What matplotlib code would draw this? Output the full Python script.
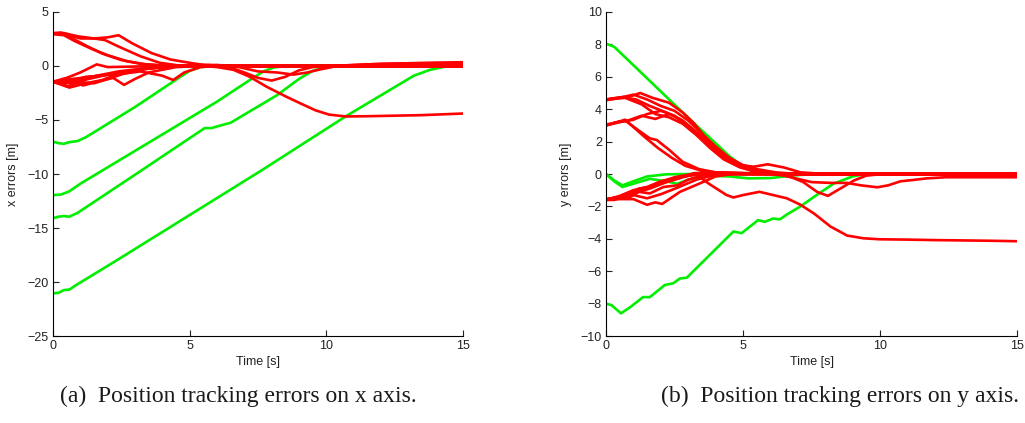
import matplotlib.pyplot as plt
import numpy as np

plt.rcParams['font.family'] = ['Liberation Sans', 'DejaVu Sans']

# ---- x axis errors (panel a), waypoints (time [s], error [m]) ----
x_green_1 = [(0, -7.0), (0.2, -7.15), (0.4, -7.2), (0.6, -7.05), (0.9, -6.95), (1.2, -6.6),
             (3.0, -3.8), (4.6, -1.1), (5.0, -0.45), (5.4, -0.1), (5.8, 0), (15, 0)]
x_green_2 = [(0, -11.95), (0.3, -11.9), (0.6, -11.6), (1.0, -10.9), (3.5, -7.1), (6.0, -3.3),
             (7.2, -1.3), (7.7, -0.5), (8.1, -0.12), (8.6, 0), (15, 0)]
x_green_3 = [(0, -14.1), (0.2, -13.95), (0.4, -13.9), (0.6, -13.95), (0.9, -13.6), (3.1, -9.9),
             (5.55, -5.75), (5.8, -5.75), (6.0, -5.6), (6.5, -5.25), (8.2, -2.7), (9.0, -1.2),
             (9.5, -0.45), (10.0, -0.1), (10.5, 0), (15, 0)]
x_green_4 = [(0, -21.05), (0.2, -21.0), (0.4, -20.75), (0.6, -20.7), (0.9, -20.2), (2.2, -18.2),
             (7.64, -9.65), (10.75, -4.6), (13.2, -0.9), (13.8, -0.35), (14.3, -0.08), (15, 0)]

x_red_1 = [(0, 3.0), (0.4, 3.05), (0.9, 2.75), (1.5, 2.55), (2.0, 2.65), (2.4, 2.85), (2.9, 2.1),
           (3.6, 1.2), (4.3, 0.6), (5.1, 0.25), (5.7, 0.05), (6.5, 0), (15, 0)]
x_red_2 = [(0, 3.0), (0.5, 2.9), (1.0, 2.55), (1.5, 2.55), (1.9, 2.4), (2.4, 1.8), (3.2, 0.9),
           (3.9, 0.3), (4.6, 0.05), (5.5, 0), (15, 0)]
x_red_3 = [(0, 3.05), (0.3, 3.1), (0.6, 2.7), (1.2, 1.9), (1.8, 1.15), (2.5, 0.55), (3.2, 0.2),
           (4.0, 0.05), (5.0, 0), (15, 0)]
x_red_4 = [(0, 2.95), (0.4, 2.85), (0.8, 2.3), (1.4, 1.6), (2.0, 1.0), (2.7, 0.45), (3.4, 0.15),
           (4.2, 0), (15, 0)]
x_red_5 = [(0, -1.45), (0.5, -1.1), (1.0, -0.6), (1.6, 0.15), (2.0, -0.1), (3.0, -0.05),
           (4.0, 0), (15, 0)]
x_red_6 = [(0, -1.5), (0.4, -1.7), (0.8, -1.3), (1.2, -1.0), (1.8, -0.9), (2.5, -0.6),
           (3.5, -0.2), (4.5, 0), (15, 0)]
x_red_7 = [(0, -1.45), (0.5, -1.9), (1.0, -1.5), (1.5, -1.6), (2.0, -1.2), (2.6, -0.7),
           (3.3, -0.3), (4.2, -0.05), (5.0, 0), (15, 0)]
x_red_8 = [(0, -1.5), (0.6, -1.3), (1.1, -1.8), (1.7, -1.4), (2.2, -1.1), (2.6, -1.75),
           (3.0, -1.2), (3.5, -0.6), (4.5, -0.1), (5.5, 0), (15, 0)]
x_red_9 = [(0, -1.4), (0.6, -2.0), (1.2, -1.6), (1.8, -1.3), (2.3, -0.8), (3.2, -0.5),
           (4.0, -0.9), (4.4, -1.3), (4.8, -0.6), (5.4, -0.1), (6.0, 0), (15, 0)]
x_red_10 = [(0, -1.5), (0.7, -1.2), (1.4, -1.0), (2.2, -0.7), (3.2, -0.3), (4.3, -0.05),
            (5.3, 0.05), (6.0, -0.1), (6.6, -0.35), (7.2, -1.0), (7.8, -1.9), (8.5, -2.8),
            (9.0, -3.4), (9.6, -4.1), (10.1, -4.5), (10.7, -4.67), (11.5, -4.65),
            (12.5, -4.6), (13.5, -4.55), (14.5, -4.45), (15, -4.4)]
x_red_11 = [(0, -1.55), (0.5, -1.4), (1.0, -1.2), (1.6, -0.9), (2.4, -0.5), (3.4, -0.2),
            (4.5, -0.05), (5.7, 0.1), (6.5, -0.15), (7.0, -0.6), (7.5, -1.1), (8.0, -1.35),
            (8.5, -1.0), (9.0, -0.4), (9.5, -0.1), (10.2, 0), (11, 0.1), (12, 0.2),
            (13, 0.25), (14, 0.3), (15, 0.35)]
x_red_12 = [(0, -1.45), (0.7, -1.6), (1.3, -1.2), (2.0, -0.8), (3.0, -0.4), (4.0, -0.1),
            (5.0, 0.05), (6.0, 0.1), (6.8, -0.1), (7.5, -0.5), (8.2, -0.6), (8.8, -0.8),
            (9.3, -0.6), (9.8, -0.3), (10.4, 0), (11.5, 0.15), (13, 0.25), (15, 0.3)]

# ---- y axis errors (panel b) ----
y_green_1 = [(0, 8.05), (0.3, 7.85), (3.2, 3.15), (4.0, 1.9), (4.5, 1.1), (4.9, 0.6),
             (5.3, 0.3), (5.7, 0.1), (6.2, 0), (15, 0)]
y_green_2 = [(0, 0), (0.3, -0.4), (0.6, -0.7), (1.0, -0.45), (1.5, -0.15), (2.2, -0.02),
             (3.0, 0), (15, 0)]
y_green_3 = [(0, 0), (0.3, -0.45), (0.6, -0.8), (1.0, -0.6), (1.6, -0.3), (2.2, -0.45),
             (2.6, -0.6), (3.0, -0.35), (3.6, -0.1), (4.5, -0.15), (5.2, -0.27), (6.0, -0.25),
             (6.8, -0.1), (7.5, 0), (15, 0)]
y_green_4 = [(0, -8.0), (0.2, -8.1), (0.55, -8.6), (0.9, -8.2), (1.35, -7.6), (1.6, -7.6),
             (2.15, -6.85), (2.45, -6.75), (2.7, -6.45), (2.95, -6.4), (4.65, -3.55),
             (4.95, -3.65), (5.55, -2.85), (5.8, -2.95), (6.1, -2.75), (6.35, -2.8),
             (6.6, -2.5), (7.1, -2.0), (7.6, -1.4), (8.3, -0.6), (9.0, -0.15), (9.5, 0), (15, 0)]

y_red_1 = [(0, 4.6), (0.4, 4.7), (0.9, 4.8), (1.25, 5.0), (1.7, 4.7), (2.3, 4.4), (2.8, 3.8),
           (3.2, 3.15), (3.7, 2.1), (4.4, 1.1), (4.9, 0.55), (5.4, 0.45), (5.9, 0.6),
           (6.5, 0.4), (7.1, 0.1), (8.0, 0), (15, 0)]
y_red_2 = [(0, 4.55), (0.5, 4.7), (1.0, 4.9), (1.5, 4.6), (2.0, 4.2), (2.5, 3.9), (3.0, 3.3),
           (3.5, 2.5), (4.0, 1.7), (4.5, 1.0), (5.0, 0.55), (5.5, 0.3), (6.2, 0.1), (7.0, 0),
           (15, 0)]
y_red_3 = [(0, 4.6), (0.6, 4.75), (1.1, 4.6), (1.6, 4.2), (2.2, 3.8), (2.7, 3.4), (3.2, 2.7),
           (3.7, 2.0), (4.2, 1.3), (4.7, 0.7), (5.3, 0.3), (6.0, 0.05), (7.0, 0), (15, 0)]
y_red_4 = [(0, 4.6), (0.7, 4.7), (1.3, 4.3), (1.8, 3.7), (2.3, 3.5), (2.8, 3.1), (3.3, 2.4),
           (3.8, 1.6), (4.3, 0.9), (4.9, 0.4), (5.5, 0.15), (6.5, 0), (15, 0)]
y_red_5 = [(0, 3.0), (0.4, 3.2), (0.8, 3.3), (1.3, 3.6), (1.8, 3.4), (2.3, 3.7), (2.8, 3.3),
           (3.3, 2.6), (3.8, 1.8), (4.3, 1.1), (4.8, 0.5), (5.3, 0.2), (6.0, 0.05), (7.0, 0),
           (15, 0)]
y_red_6 = [(0, 3.0), (0.5, 3.2), (1.0, 3.35), (1.5, 3.7), (2.0, 3.9), (2.5, 3.6), (3.0, 2.9),
           (3.5, 2.2), (4.0, 1.4), (4.5, 0.8), (5.0, 0.4), (5.6, 0.15), (6.5, 0), (15, 0)]
y_red_7 = [(0, 3.0), (0.4, 3.2), (0.7, 3.35), (1.0, 2.9), (1.4, 2.3), (1.9, 1.6), (2.4, 1.0),
           (2.9, 0.5), (3.5, 0.2), (4.2, 0.05), (5.0, 0), (15, 0)]
y_red_8 = [(0, 3.05), (0.7, 3.3), (1.1, 2.8), (1.6, 2.2), (1.85, 2.1), (2.3, 1.5), (2.8, 0.75),
           (3.4, 0.3), (4.0, 0.1), (5.0, 0), (15, 0)]
y_red_9 = [(0, -1.6), (0.3, -1.6), (0.7, -1.35), (1.2, -0.9), (1.6, -0.8), (2.0, -0.5),
           (2.5, -0.2), (3.0, -0.05), (3.5, 0), (15, 0)]
y_red_10 = [(0, -1.6), (0.5, -1.5), (0.8, -1.5), (1.2, -1.1), (1.6, -1.2), (2.1, -0.8),
            (2.6, -0.7), (3.0, -0.35), (3.5, -0.1), (4.2, 0), (15, 0)]
y_red_11 = [(0, -1.6), (0.5, -1.55), (1.0, -1.55), (1.5, -1.9), (1.8, -1.75), (2.05, -1.85),
            (2.7, -1.1), (3.4, -0.6), (4.0, -0.15), (4.6, 0), (15, 0)]
y_red_12 = [(0, -1.55), (0.6, -1.4), (1.0, -1.3), (1.5, -1.5), (2.0, -1.25), (2.6, -0.85),
            (3.3, -0.35), (4.0, -0.05), (4.8, 0), (15, 0)]
y_red_13 = [(0, -1.6), (0.5, -1.35), (1.0, -1.0), (1.5, -0.8), (2.0, -0.45), (2.6, -0.2),
            (3.3, -0.05), (3.8, -0.65), (4.4, -1.3), (4.65, -1.45), (5.0, -1.3), (5.6, -1.1),
            (6.1, -1.3), (6.6, -1.5), (7.1, -1.9), (7.6, -2.45), (8.2, -3.25), (8.8, -3.8),
            (9.4, -3.97), (10.0, -4.03), (11, -4.05), (12, -4.08), (13, -4.1), (14, -4.12),
            (15, -4.15)]
y_red_14 = [(0, -1.6), (0.5, -1.45), (1.0, -1.2), (1.6, -0.9), (2.2, -0.5), (2.8, -0.2),
            (3.4, 0.05), (4.2, 0.1), (5.2, 0.05), (6.2, 0), (6.7, -0.15), (7.2, -0.5),
            (7.7, -1.1), (8.1, -1.35), (8.55, -0.9), (9.05, -0.4), (9.5, -0.1), (10.1, 0),
            (15, 0)]
y_red_15 = [(0, -1.55), (0.6, -1.4), (1.2, -1.0), (1.8, -0.7), (2.5, -0.35), (3.2, 0.05),
            (4.0, 0.1), (5.0, 0.05), (6.0, 0), (6.5, -0.1), (7.0, -0.3), (7.5, -0.5),
            (8.2, -0.55), (8.8, -0.55), (9.3, -0.7), (9.9, -0.82), (10.3, -0.7),
            (10.75, -0.45), (11.2, -0.37), (11.7, -0.27), (12.4, -0.2), (13.5, -0.2), (15, -0.2)]

x_greens = [x_green_1, x_green_2, x_green_3, x_green_4]
x_reds = [x_red_1, x_red_2, x_red_3, x_red_4, x_red_5, x_red_6, x_red_7, x_red_8,
          x_red_9, x_red_10, x_red_11, x_red_12]
y_greens = [y_green_1, y_green_2, y_green_3, y_green_4]
y_reds = [y_red_1, y_red_2, y_red_3, y_red_4, y_red_5, y_red_6, y_red_7, y_red_8,
          y_red_9, y_red_10, y_red_11, y_red_12, y_red_13, y_red_14, y_red_15]

x_yticks = [-25, -20, -15, -10, -5, 0, 5]
y_yticks = [-10, -8, -6, -4, -2, 0, 2, 4, 6, 8, 10]
time_ticks = [0, 5, 10, 15]

captions = ["(a)  Position tracking errors on x axis.",
            "(b)  Position tracking errors on y axis."]

GREEN = "#00ee00"
RED = "#ff0000"


def draw_panel(ax, greens, reds, yticks, ylabel):
    for curve in greens:
        t, v = np.array(curve).T
        ax.plot(t, v, color=GREEN, linewidth=1.9, solid_joinstyle="round")
    for curve in reds:
        t, v = np.array(curve).T
        ax.plot(t, v, color=RED, linewidth=1.9, solid_joinstyle="round")

    ax.set_xlim(0, 15)
    ax.set_ylim(yticks[0], yticks[-1])
    ax.set_xticks(time_ticks)
    ax.set_yticks(yticks)
    ax.spines["top"].set_visible(False)
    ax.spines["right"].set_visible(False)
    ax.tick_params(direction="in", length=4, labelsize=9, width=0.8, pad=3,
                   colors="#222222")
    ax.set_xlabel("Time [s]", fontsize=9, labelpad=3, color="#222222")
    ax.set_ylabel(ylabel, fontsize=9, labelpad=6, color="#222222")


fig = plt.figure(figsize=(10.25, 4.23), dpi=100)
ax1 = fig.add_axes([53 / 1025, 1 - 336 / 423, 410 / 1025, 324 / 423])
ax2 = fig.add_axes([606 / 1025, 1 - 336 / 423, 411 / 1025, 324 / 423])

draw_panel(ax1, x_greens, x_reds, x_yticks, "x errors [m]")
draw_panel(ax2, y_greens, y_reds, y_yticks, "y errors [m]")

caption_font = ["Liberation Serif", "DejaVu Serif"]
fig.text(238 / 1025, 1 - 396 / 423, captions[0],
         ha="center", va="center", fontsize=17, family=caption_font, color="#1a1a1a")
fig.text(840 / 1025, 1 - 396 / 423, captions[1],
         ha="center", va="center", fontsize=17, family=caption_font, color="#1a1a1a")

fig.savefig("out.png", dpi=100)
plt.close(fig)
